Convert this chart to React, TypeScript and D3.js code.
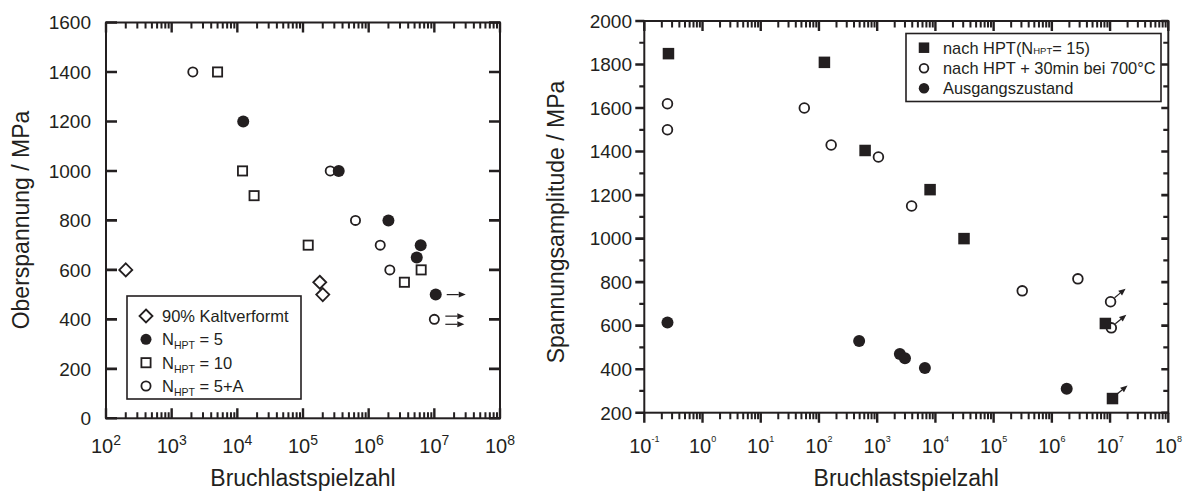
import React from 'react';
import * as d3 from 'd3';

// Linkes Diagramm: Oberspannung über Bruchlastspielzahl
const kaltX = [200, 1.8e5, 2e5];
const kaltY = [600, 550, 500];
const n5X = [1.23e4, 3.5e5, 2e6, 6.2e6, 5.4e6, 1.05e7];
const n5Y = [1200, 1000, 800, 700, 650, 500];
const n10X = [5000, 1.2e4, 1.8e4, 1.2e5, 6.3e6, 3.5e6];
const n10Y = [1400, 1000, 900, 700, 600, 550];
const n5aX = [2100, 2.6e5, 6.3e5, 1.5e6, 2.1e6, 1e7];
const n5aY = [1400, 1000, 800, 700, 600, 400];
// Durchläufer (Pfeile)
const leftRunX = [1.05e7, 1e7, 1e7];
const leftRunY = [500, 413, 380];

// Rechtes Diagramm: Spannungsamplitude
const hptX = [0.26, 124, 620, 8100, 31000, 8.3e6, 1.1e7];
const hptY = [1850, 1810, 1405, 1225, 1000, 610, 265];
const annX = [0.25, 0.25, 56, 162, 1050, 3900, 3.1e5, 2.8e6, 1.02e7, 1.05e7];
const annY = [1620, 1500, 1600, 1430, 1375, 1150, 760, 815, 710, 590];
const ausX = [0.25, 490, 2450, 3000, 6600, 1.8e6];
const ausY = [615, 530, 470, 450, 405, 310];
const rightRunX = [1.02e7, 1.05e7, 1.1e7];
const rightRunY = [710, 590, 265];

// Achsen
const leftYTicks = [0, 200, 400, 600, 800, 1000, 1200, 1400, 1600];
const leftXExps = [2, 3, 4, 5, 6, 7, 8];
const rightYTicks = [200, 400, 600, 800, 1000, 1200, 1400, 1600, 1800, 2000];
const rightYMinor = [300, 500, 700, 900, 1100, 1300, 1500, 1700, 1900];
const rightXExps = [-1, 0, 1, 2, 3, 4, 5, 6, 7, 8];

const xTitle = 'Bruchlastspielzahl';
const leftYTitle = 'Oberspannung / MPa';
const rightYTitle = 'Spannungsamplitude / MPa';

const INK = '#231f20';
const FONT = 'Liberation Sans, Arial, sans-serif';

const minorOf = (exps: number[]) => {
  const out: number[] = [];
  for (let i = 0; i < exps.length - 1; i++) {
    for (let k = 2; k <= 9; k++) out.push(k * Math.pow(10, exps[i]));
  }
  return out;
};

// horizontale / vertikale Tickstriche als ein Pfad
const hTicks = (ys: number[], xa: number, len: number) => ys.map((v) => `M${xa},${v}h${len}`).join('');
const vTicks = (xs: number[], ya: number, len: number) => xs.map((v) => `M${v},${ya}v${len}`).join('');

type Shape = 'circle' | 'square' | 'diamond';

function Marker({ x, y, shape, filled, size }: { x: number; y: number; shape: Shape; filled: boolean; size: number }) {
  const fill = filled ? INK : 'white';
  const sw = filled ? 0 : 1.8;
  if (shape === 'circle') {
    return <circle cx={x} cy={y} r={filled ? size / 2 : size / 2 - 0.9} fill={fill} stroke={INK} strokeWidth={sw} />;
  }
  if (shape === 'square') {
    const s = filled ? size : size - 1.8;
    return <rect x={x - s / 2} y={y - s / 2} width={s} height={s} fill={fill} stroke={INK} strokeWidth={sw} />;
  }
  const h = size / 2;
  return <path d={`M${x},${y - h}L${x + h},${y}L${x},${y + h}L${x - h},${y}Z`} fill={fill} stroke={INK} strokeWidth={sw} />;
}

function Arrow({ x1, y1, x2, y2 }: { x1: number; y1: number; x2: number; y2: number }) {
  const a = Math.atan2(y2 - y1, x2 - x1);
  const L = 7, Wd = 3;
  const bx = x2 - L * Math.cos(a), by = y2 - L * Math.sin(a);
  const px = -Math.sin(a) * Wd, py = Math.cos(a) * Wd;
  return (
    <g>
      <path d={`M${x1},${y1}L${bx},${by}`} stroke={INK} strokeWidth={1.2} fill="none" />
      <path d={`M${x2},${y2}L${bx + px},${by + py}L${bx - px},${by - py}Z`} fill={INK} />
    </g>
  );
}

function LeftChart() {
  const x = d3.scaleLog().domain([1e2, 1e8]).range([106, 500]);
  const y = d3.scaleLinear().domain([0, 1600]).range([418.3, 22.5]);
  const left = 106, right = 500, bottom = 418.3, top = 22.5;
  const majX = leftXExps.map((e) => x(Math.pow(10, e)));
  const minX = minorOf(leftXExps).map((v) => x(v));
  const yPos = leftYTicks.map((t) => y(t));
  const series: { xs: number[]; ys: number[]; shape: Shape; filled: boolean; size: number }[] = [
    { xs: kaltX, ys: kaltY, shape: 'diamond', filled: false, size: 13 },
    { xs: n10X, ys: n10Y, shape: 'square', filled: false, size: 11 },
    { xs: n5aX, ys: n5aY, shape: 'circle', filled: false, size: 11 },
    { xs: n5X, ys: n5Y, shape: 'circle', filled: true, size: 12 },
  ];
  const legend: { shape: Shape; filled: boolean; label: string; sub?: string }[] = [
    { shape: 'diamond', filled: false, label: '90% Kaltverformt' },
    { shape: 'circle', filled: true, label: ' = 5', sub: 'HPT' },
    { shape: 'square', filled: false, label: ' = 10', sub: 'HPT' },
    { shape: 'circle', filled: false, label: ' = 5+A', sub: 'HPT' },
  ];
  const rowY = [316, 339.3, 362.7, 386];
  const tickD = hTicks(yPos, left, 11) + hTicks(yPos, right, -11);
  const majD = vTicks(majX, bottom, -10) + vTicks(majX, top, 10);
  const minD = vTicks(minX, bottom, -6) + vTicks(minX, top, 6);
  return (
    <g>
      <rect x={left} y={top} width={right - left} height={bottom - top} fill="none" stroke={INK} strokeWidth={2} />
      <path d={tickD} stroke={INK} strokeWidth={2.6} fill="none" />
      <path d={majD} stroke={INK} strokeWidth={2.4} fill="none" />
      <path d={minD} stroke={INK} strokeWidth={2} fill="none" />
      {leftYTicks.map((t) => (
        <text key={'ly' + t} x={91} y={y(t)} dy="0.36em" textAnchor="end" fontSize={19} fill={INK} fontFamily={FONT}>{t}</text>
      ))}
      {leftXExps.map((e) => (
        <text key={'lx' + e} x={x(Math.pow(10, e))} y={452.7} textAnchor="middle" fontSize={20} fill={INK} fontFamily={FONT}>
          10<tspan fontSize={14} dy={-8}>{e}</tspan>
        </text>
      ))}
      {/* legend */}
      <rect x={127} y={296} width={174} height={103} fill="white" stroke={INK} strokeWidth={1.6} />
      {legend.map((l, i) => (
        <g key={'ll' + i}>
          <Marker x={146} y={rowY[i]} shape={l.shape} filled={l.filled} size={l.shape === 'diamond' ? 13 : 11} />
          <text x={162} y={rowY[i] + 6} fontSize={16.5} fill={INK} fontFamily={FONT}>
            {l.sub ? (
              <>
                N<tspan fontSize={10.5} dy={4}>{l.sub}</tspan><tspan dy={-4}>{l.label}</tspan>
              </>
            ) : (
              l.label
            )}
          </text>
        </g>
      ))}
      {/* data */}
      {series.map((s, si) =>
        s.xs.map((v, i) => (
          <Marker key={`p${si}-${i}`} x={x(v)} y={y(s.ys[i])} shape={s.shape} filled={s.filled} size={s.size} />
        ))
      )}
      {leftRunX.map((v, i) => (
        <Arrow key={'la' + i} x1={x(v) + 11} y1={y(leftRunY[i])} x2={x(v) + 30} y2={y(leftRunY[i])} />
      ))}
      <text x={(left + right) / 2} y={486} textAnchor="middle" fontSize={23} fill={INK} fontFamily={FONT}>{xTitle}</text>
      <text transform="translate(29,220) rotate(-90)" textAnchor="middle" fontSize={23} fill={INK} fontFamily={FONT}>{leftYTitle}</text>
    </g>
  );
}

function RightChart() {
  const x = d3.scaleLog().domain([1e-1, 1e8]).range([644.3, 1168.3]);
  const y = d3.scaleLinear().domain([200, 2000]).range([412.7, 21]);
  const left = 644.3, right = 1168.3, bottom = 412.7, top = 21;
  const majX = rightXExps.map((e) => x(Math.pow(10, e)));
  const minX = minorOf(rightXExps).map((v) => x(v));
  const majY = rightYTicks.map((t) => y(t));
  const minY = rightYMinor.map((t) => y(t));
  const series: { xs: number[]; ys: number[]; shape: Shape; filled: boolean; size: number }[] = [
    { xs: annX, ys: annY, shape: 'circle', filled: false, size: 11.5 },
    { xs: ausX, ys: ausY, shape: 'circle', filled: true, size: 12 },
    { xs: hptX, ys: hptY, shape: 'square', filled: true, size: 11.5 },
  ];
  const legend: { shape: Shape; filled: boolean; label: string }[] = [
    { shape: 'square', filled: true, label: 'nach HPT(N' },
    { shape: 'circle', filled: false, label: 'nach HPT + 30min bei 700°C' },
    { shape: 'circle', filled: true, label: 'Ausgangszustand' },
  ];
  const rowY = [47.7, 68.3, 88.3];
  const majYD = hTicks(majY, left, -9) + hTicks(majY, right, -7);
  const minYD = hTicks(minY, left, -5) + hTicks(minY, right, -5);
  const majXD = vTicks(majX, bottom, 10) + vTicks(majX, top, 10);
  const minXD = vTicks(minX, bottom, 6.5) + vTicks(minX, top, 6.5);
  return (
    <g>
      <rect x={left} y={top} width={right - left} height={bottom - top} fill="none" stroke={INK} strokeWidth={2} />
      <path d={majYD} stroke={INK} strokeWidth={2.6} fill="none" />
      <path d={minYD} stroke={INK} strokeWidth={2.2} fill="none" />
      <path d={majXD} stroke={INK} strokeWidth={2.4} fill="none" />
      <path d={minXD} stroke={INK} strokeWidth={2} fill="none" />
      {rightYTicks.map((t) => (
        <text key={'ry' + t} x={632} y={y(t)} dy="0.36em" textAnchor="end" fontSize={19} fill={INK} fontFamily={FONT}>{t}</text>
      ))}
      {rightXExps.map((e) => (
        <text key={'rx' + e} x={x(Math.pow(10, e))} y={453} textAnchor="middle" fontSize={20} fill={INK} fontFamily={FONT}>
          10<tspan fontSize={9} dy={-11}>{e}</tspan>
        </text>
      ))}
      {/* legend */}
      <rect x={906} y={33.5} width={255} height={68} fill="white" stroke={INK} strokeWidth={1.6} />
      {legend.map((l, i) => (
        <g key={'rl' + i}>
          <Marker x={924} y={rowY[i]} shape={l.shape} filled={l.filled} size={10.5} />
          <text x={943} y={rowY[i] + 6} fontSize={16.4} fill={INK} fontFamily={FONT}>
            {l.label}
            {i === 0 && (
              <>
                <tspan fontSize={9.5}>HPT</tspan>= 15)
              </>
            )}
          </text>
        </g>
      ))}
      {series.map((s, si) =>
        s.xs.map((v, i) => (
          <Marker key={`q${si}-${i}`} x={x(v)} y={y(s.ys[i])} shape={s.shape} filled={s.filled} size={s.size} />
        ))
      )}
      {rightRunX.map((v, i) => (
        <Arrow key={'ra' + i} x1={x(v) + 4} y1={y(rightRunY[i]) - 4} x2={x(v) + 15} y2={y(rightRunY[i]) - 13} />
      ))}
      <text x={(left + right) / 2} y={486} textAnchor="middle" fontSize={23} fill={INK} fontFamily={FONT}>{xTitle}</text>
      <text transform="translate(564,222) rotate(-90)" textAnchor="middle" fontSize={23} fill={INK} fontFamily={FONT}>{rightYTitle}</text>
    </g>
  );
}

export default function App() {
  return (
    <svg width={1189} height={494} style={{ position: 'absolute', left: 0, top: 0, background: 'white' }}>
      <LeftChart />
      <RightChart />
    </svg>
  );
}
